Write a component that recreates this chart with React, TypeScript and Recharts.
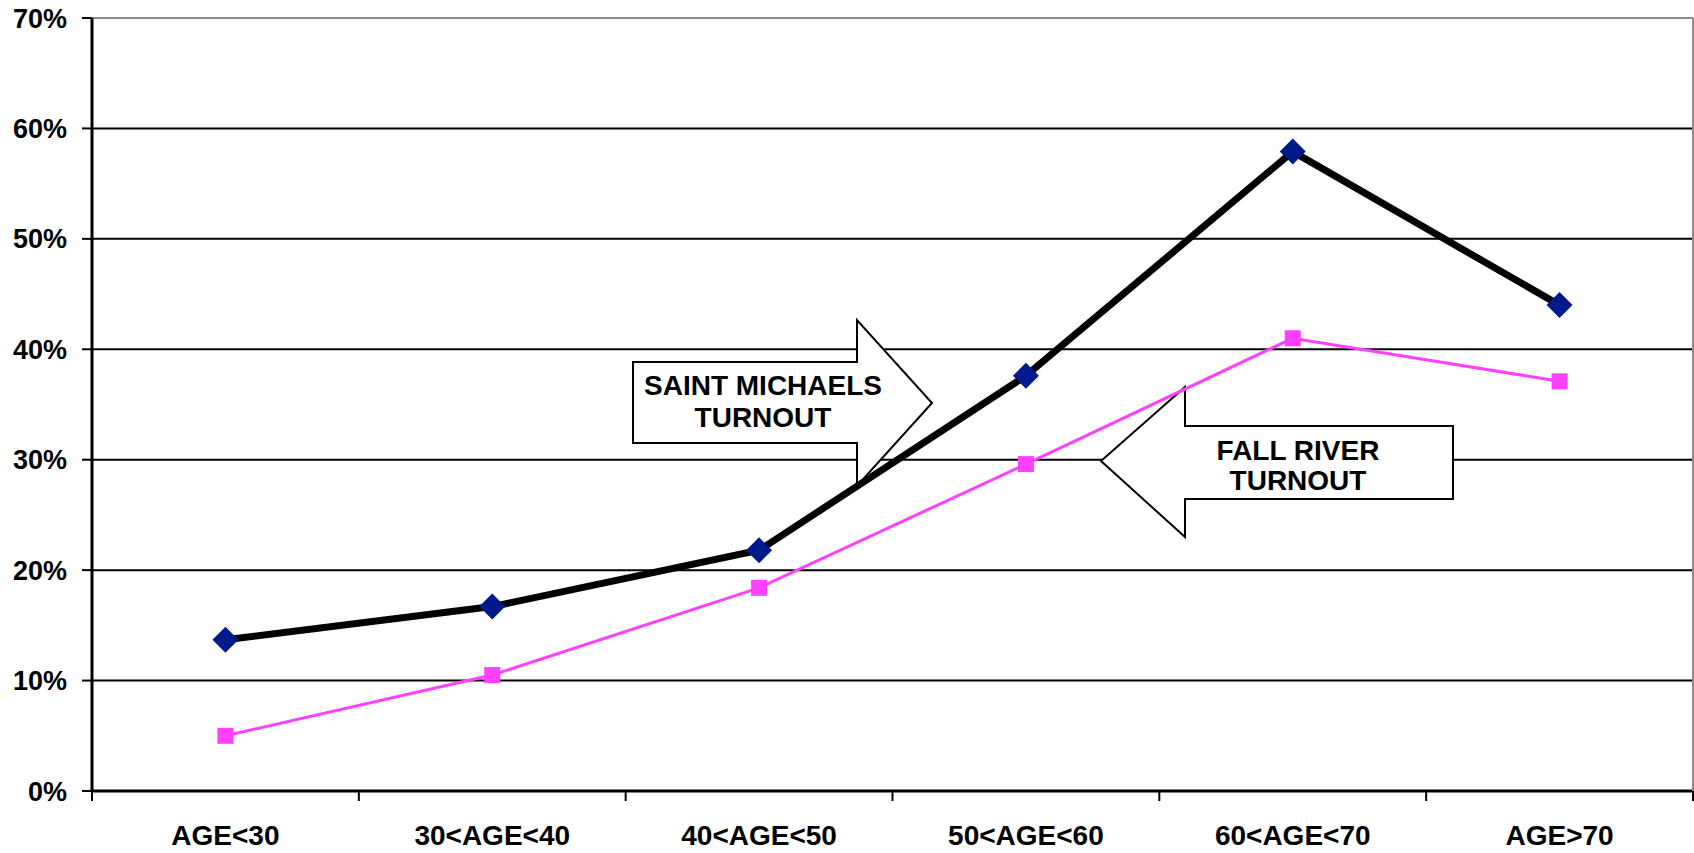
import { LineChart, Line, XAxis, YAxis, CartesianGrid, ReferenceLine, Customized } from 'recharts';

const categories = ['AGE<30', '30<AGE<40', '40<AGE<50', '50<AGE<60', '60<AGE<70', 'AGE>70'];
const saintMichaels = [13.7, 16.7, 21.8, 37.6, 57.9, 44.0];
const fallRiver = [5.0, 10.5, 18.4, 29.6, 41.0, 37.1];
const yTicks = [0, 10, 20, 30, 40, 50, 60, 70];

const data = categories.map((name, i) => ({
  name,
  saintMichaels: saintMichaels[i],
  fallRiver: fallRiver[i],
}));

const W = 1694;
const H = 853;
const LEFT = 92;
const RIGHT_W = 1;
const TOP = 18;
const XAXIS_H = 62;
const PLOT_W = W - LEFT - RIGHT_W;
const BAND = PLOT_W / categories.length;
const FONT = '"Liberation Sans", Arial, sans-serif';

const XTick = (props: any) => {
  const { x, y, payload, index } = props;
  const axisY = y - 34;
  const left = x - BAND / 2;
  const right = x + BAND / 2;
  return (
    <g>
      <line x1={left} x2={left} y1={axisY} y2={axisY + 10} stroke="#000" strokeWidth={2} />
      {index === categories.length - 1 && (
        <line x1={right} x2={right} y1={axisY} y2={axisY + 10} stroke="#000" strokeWidth={2} />
      )}
      <text x={x} y={y} dy="0.71em" textAnchor="middle" fontFamily={FONT} fontWeight="bold" fontSize={28} fill="#000">
        {payload.value}
      </text>
    </g>
  );
};

const Diamond = (props: any) => {
  const { cx, cy, index } = props;
  const r = 13;
  return (
    <polygon
      key={`d-${index}`}
      points={`${cx},${cy - r} ${cx + r},${cy} ${cx},${cy + r} ${cx - r},${cy}`}
      fill="#001A8C"
    />
  );
};

const Square = (props: any) => {
  const { cx, cy, index } = props;
  const s = 16;
  return <rect key={`s-${index}`} x={cx - s / 2} y={cy - s / 2} width={s} height={s} fill="#FF40FF" />;
};

// callout arrows, chart pixel coordinates
const Arrows = () => {
  const txt = { fontFamily: FONT, fontWeight: 'bold' as const, fontSize: 28, fill: '#000', textAnchor: 'middle' as const };
  return (
    <g>
      <polygon
        points="633,362 857,362 857,320 932,403 857,486 857,443 633,443"
        fill="#fff"
        stroke="#000"
        strokeWidth={2}
      />
      <text x={763} y={385} dy="0.355em" {...txt}>SAINT MICHAELS</text>
      <text x={763} y={417} dy="0.355em" {...txt}>TURNOUT</text>
      <polygon
        points="1101,461 1185,387 1185,426 1453,426 1453,499 1185,499 1185,537"
        fill="#fff"
        stroke="#000"
        strokeWidth={2}
      />
      <text x={1298} y={450} dy="0.355em" {...txt}>FALL RIVER</text>
      <text x={1298} y={480} dy="0.355em" {...txt}>TURNOUT</text>
    </g>
  );
};

export default function App() {
  return (
    <div style={{ position: 'absolute', left: 0, top: 0, width: W, height: H, background: '#fff' }}>
      <LineChart width={W} height={H} data={data} margin={{ top: TOP, right: 0, bottom: 0, left: 0 }}>
        <CartesianGrid vertical={false} stroke="#000" strokeWidth={2} />
        <XAxis
          dataKey="name"
          height={XAXIS_H}
          padding={{ left: BAND / 2, right: BAND / 2 }}
          axisLine={{ stroke: '#000', strokeWidth: 3 }}
          tickLine={false}
          tickSize={10}
          tickMargin={24}
          tick={<XTick />}
          interval={0}
        />
        <YAxis
          domain={[0, 70]}
          ticks={yTicks}
          width={LEFT}
          axisLine={{ stroke: '#000', strokeWidth: 3 }}
          tickLine={{ stroke: '#000', strokeWidth: 2 }}
          tickSize={10}
          tickMargin={15}
          tickFormatter={(v: number) => `${v}%`}
          tick={{ fontFamily: FONT, fontWeight: 'bold', fontSize: 27, fill: '#000' }}
        />
        <YAxis
          yAxisId="r"
          orientation="right"
          domain={[0, 70]}
          width={RIGHT_W}
          axisLine={{ stroke: '#8c8c8c', strokeWidth: 2 }}
          tick={false}
          tickLine={false}
        />
        <ReferenceLine y={70} stroke="#8c8c8c" strokeWidth={2} />
        <Customized component={Arrows} />
        <Line
          dataKey="fallRiver"
          stroke="#FF40FF"
          strokeWidth={3}
          dot={Square}
          activeDot={false}
          isAnimationActive={false}
        />
        <Line
          dataKey="saintMichaels"
          stroke="#000"
          strokeWidth={7}
          dot={Diamond}
          activeDot={false}
          isAnimationActive={false}
        />
      </LineChart>
    </div>
  );
}
